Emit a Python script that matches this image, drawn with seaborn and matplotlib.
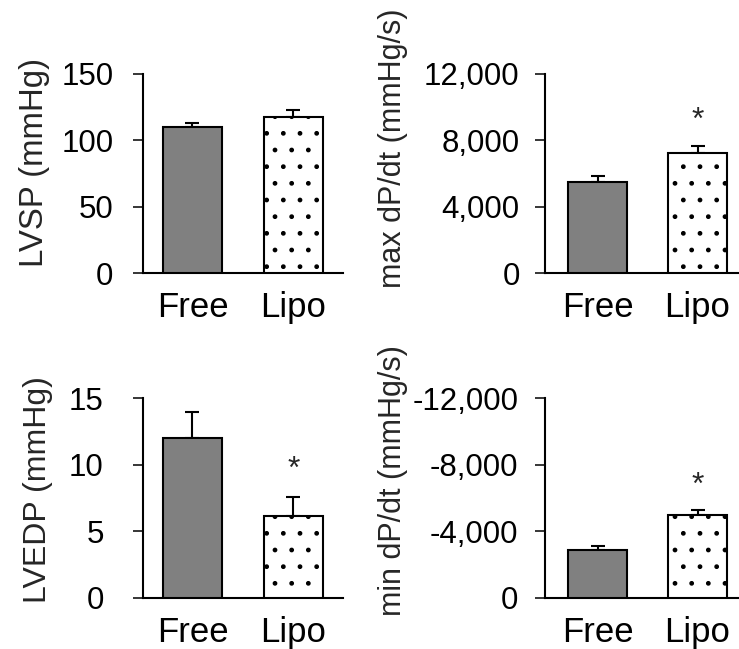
import pandas as pd
import matplotlib
matplotlib.use('Agg')
import matplotlib.pyplot as plt
import seaborn as sns
from matplotlib.ticker import FuncFormatter

sns.set_style('white')
plt.rcParams['font.family'] = ['Liberation Sans', 'DejaVu Sans']
plt.rcParams['hatch.linewidth'] = 1.0

# data (mean, SEM)
groups = ['Free', 'Lipo']

lvsp = [110.0, 117.8]
lvsp_err = [3.0, 5.0]

max_dpdt = [5516, 7262]
max_dpdt_err = [340, 400]

lvedp = [12.0, 6.15]
lvedp_err = [2.0, 1.4]

min_dpdt = [-2866, -4970]
min_dpdt_err = [260, 300]

# significance star (baseline height above the Lipo bar), None = no star
star_max = 8720
star_lvedp = 9.04
star_min = -6220

panels = [
    dict(vals=lvsp, err=lvsp_err, label='LVSP (mmHg)', lab_fs=23.8, ylim=(0, 150),
         ticks=[0, 50, 100, 150], pos=[0.1935, 0.5789, 0.2706, 0.3071], xlim=(-0.49, 1.49),
         width=0.584, lab_xy=(-0.465, 0.558), pad=14, star=None),
    dict(vals=max_dpdt, err=max_dpdt_err, label='max dP/dt (mmHg/s)', lab_fs=22, ylim=(0, 12000),
         ticks=[0, 4000, 8000, 12000], pos=[0.7375, 0.5789, 0.2625, 0.3071],
         xlim=(-0.525, 1.415), width=0.59, lab_xy=(-0.706, 0.625), pad=11, star=star_max),
    dict(vals=lvedp, err=lvedp_err, label='LVEDP (mmHg)', lab_fs=23, ylim=(0, 15),
         ticks=[0, 5, 10, 15], pos=[0.1935, 0.079, 0.2706, 0.3072], xlim=(-0.49, 1.49),
         width=0.584, lab_xy=(-0.45, 0.545), pad=21, star=star_lvedp),
    dict(vals=min_dpdt, err=min_dpdt_err, label='min dP/dt (mmHg/s)', lab_fs=22, ylim=(0, -12000),
         ticks=[0, -4000, -8000, -12000], pos=[0.7375, 0.079, 0.2625, 0.3072],
         xlim=(-0.525, 1.415), width=0.59, lab_xy=(-0.706, 0.59), pad=12, star=star_min),
]

fig = plt.figure(figsize=(7.39, 6.49), dpi=100)

for p in panels:
    ax = fig.add_axes(p['pos'])
    df = pd.DataFrame({'group': groups, 'value': p['vals']})
    sns.barplot(data=df, x='group', y='value', hue='group', palette=['#808080', 'white'],
                edgecolor='black', linewidth=1.5, width=p['width'], legend=False, ax=ax,
                errorbar=None, zorder=3)
    ax.patches[1].set_hatch('.')

    # one-sided error bars (away from zero)
    if p['ylim'][1] > 0:
        yerr = [[0, 0], p['err']]
    else:
        yerr = [p['err'], [0, 0]]
    ax.errorbar(range(len(groups)), p['vals'], yerr=yerr, fmt='none', ecolor='black',
                elinewidth=1.5, capsize=5, capthick=1.5, zorder=2)

    if p['star'] is not None:
        ax.text(1, p['star'], '*', ha='center', va='baseline', fontsize=23)

    ax.set_ylim(*p['ylim'])
    ax.set_xlim(*p['xlim'])
    ax.set_yticks(p['ticks'])
    ax.yaxis.set_major_formatter(FuncFormatter(lambda v, _: f'{v:,.0f}'))
    ax.set_xlabel('')
    ax.set_ylabel(p['label'], fontsize=p['lab_fs'])
    ax.yaxis.set_label_coords(*p['lab_xy'])

    for s in ['top', 'right']:
        ax.spines[s].set_visible(False)
    for s in ['left', 'bottom']:
        ax.spines[s].set_color('black')
        ax.spines[s].set_linewidth(1.5)
    ax.tick_params(axis='y', direction='out', length=7.2, width=1.1, colors='black',
                   labelsize=22.5, pad=p['pad'], left=True)
    ax.tick_params(axis='x', length=0, labelsize=25, pad=13, colors='black')

fig.savefig('out.png', dpi=100)
